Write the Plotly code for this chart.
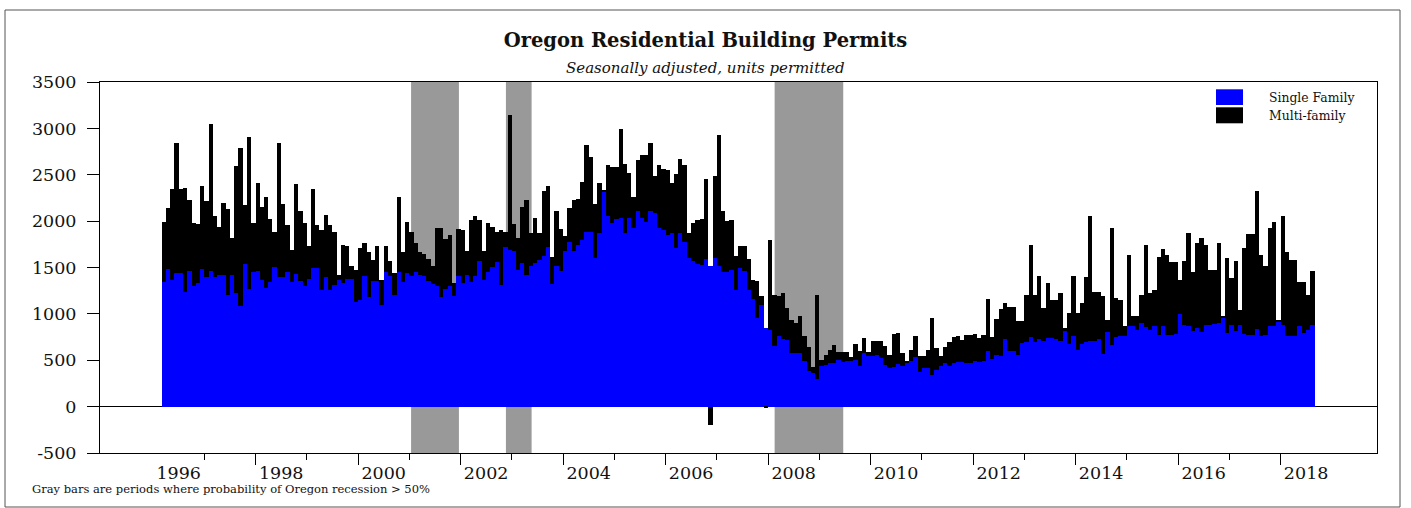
import pandas as pd
import plotly.graph_objects as go

# ---------------- data ----------------
months = pd.date_range("1996-03-01", periods=270, freq="MS")

single_family = [
    1339, 1483, 1360, 1440, 1440, 1231, 1457, 1296, 1332, 1483,
    1403, 1457, 1403, 1422, 1415, 1206, 1422, 1224, 1080, 1540,
    1268, 1451, 1457, 1368, 1278, 1339, 1505, 1393, 1400, 1447,
    1343, 1429, 1350, 1303, 1371, 1490, 1493, 1260, 1397, 1260,
    1314, 1368, 1332, 1375, 1379, 1124, 1152, 1404, 1181, 1350,
    1350, 1099, 1447, 1404, 1206, 1447, 1339, 1440, 1411, 1454,
    1422, 1404, 1350, 1325, 1296, 1181, 1268, 1296, 1195, 1411,
    1332, 1422, 1339, 1411, 1565, 1368, 1450, 1504, 1554, 1314,
    1716, 1691, 1673, 1475, 1547, 1421, 1511, 1547, 1583, 1619,
    1719, 1325, 1511, 1457, 1673, 1770, 1673, 1745, 1798, 1888,
    1888, 1601, 1870, 2319, 2050, 1978, 2021, 2032, 1870, 2032,
    1924, 2104, 2032, 1996, 2114, 2086, 1924, 1906, 1852, 1870,
    1709, 1870, 1780, 1601, 1565, 1540, 1529, 1594, 1511, 1601,
    1511, 1450, 1454, 1468, 1260, 1493, 1457, 1260, 1159, 955,
    1098, 847, 829, 650, 764, 729, 721, 578, 578, 578,
    488, 380, 362, 298, 434, 452, 470, 470, 499, 481,
    488, 488, 506, 434, 578, 542, 542, 560, 524, 452,
    416, 427, 463, 441, 477, 488, 535, 370, 416, 416,
    344, 398, 441, 470, 434, 470, 477, 477, 470, 470,
    488, 477, 495, 596, 513, 560, 549, 729, 596, 596,
    560, 686, 693, 750, 693, 729, 711, 739, 739, 729,
    703, 811, 678, 764, 614, 678, 693, 703, 703, 729,
    571, 801, 668, 750, 764, 757, 865, 865, 829, 901,
    854, 822, 865, 775, 865, 775, 775, 786, 1001, 883,
    865, 811, 847, 801, 883, 883, 890, 901, 966, 793,
    883, 811, 883, 786, 775, 775, 836, 764, 775, 872,
    872, 919, 883, 757, 757, 757, 865, 793, 829, 883,
]

multi_family = [
    657, 657, 988, 1400, 908, 1131, 773, 689, 639, 897,
    819, 1591, 647, 520, 785, 923, 395, 1375, 1710, 636,
    1643, 534, 952, 779, 980, 683, 383, 1447, 783, 506,
    348, 973, 754, 675, 363, 858, 460, 639, 671, 693,
    564, 54, 414, 360, 132, 344, 559, 361, 484, 236,
    379, 271, 282, 164, 237, 818, 326, 552, 467, 311,
    243, 246, 243, 186, 635, 743, 542, 557, 140, 502,
    567, 251, 668, 646, 446, 315, 530, 438, 334, 592,
    172, 1454, 299, 341, 610, 808, 360, 492, 288, 707,
    661, 287, 600, 457, 172, 370, 556, 492, 625, 934,
    801, 589, 546, 21, 556, 603, 560, 958, 744, 485,
    341, 556, 679, 718, 733, 402, 676, 654, 694, 539,
    798, 798, 826, 270, 414, 474, 492, 858, -194, 889,
    1418, 654, 549, 546, 366, 234, 270, 330, 209, 395,
    90, -15, 970, 556, 431, 495, 341, 352, 323, 402,
    272, 260, 68, 908, 72, 108, 144, 190, 86, 106,
    101, 47, 172, 162, 161, 43, 161, 151, 187, 205,
    144, 359, 330, 137, 13, 126, 229, 179, 133, 198,
    611, 234, 101, 172, 259, 280, 287, 244, 298, 305,
    294, 262, 280, 563, 237, 384, 503, 387, 477, 477,
    359, 233, 513, 995, 513, 675, 351, 593, 413, 423,
    521, 36, 331, 647, 395, 438, 703, 1347, 528, 502,
    624, 136, 1256, 420, 381, 108, 772, 108, 144, 305,
    891, 402, 395, 833, 833, 862, 779, 768, 367, 682,
    1012, 636, 916, 1015, 862, 585, 578, 862, 7, 808,
    503, 754, 154, 923, 1088, 1088, 1494, 873, 736, 1052,
    1124, 18, 1174, 905, 826, 826, 474, 546, 377, 574,
]

recession_start = ["2001-01-13", "2002-11-20", "2008-02-17"]
recession_end = ["2001-12-20", "2003-05-22", "2009-06-20"]

label_years = list(range(1996, 2019, 2))
major_tick_years = list(range(1998, 2019, 2))
minor_tick_years = list(range(1997, 2018, 2))
y_ticks = list(range(-500, 3501, 500))

# ---------------- style ----------------
FONT = "DejaVu Serif"
BLUE = "#0000FF"
BLACK = "#000000"
GRAY = "#999999"
TXT = "#111111"
L, R, T, B = 100, 34, 82, 55
W, H = 1411, 508
PW, PH = W - L - R, H - T - B


def px(xp):
    return (xp - L) / PW


def py(yp):
    return (H - B - yp) / PH


MONTH_MS = 30.44 * 24 * 3600 * 1000
x_range = ["1994-12-19", "2019-11-19"]

fig = go.Figure()
fig.add_bar(x=months, y=single_family, name="Single Family",
            marker=dict(color=BLUE, line=dict(width=0)),
            xperiod="M1", xperiodalignment="middle", width=MONTH_MS)
fig.add_bar(x=months, y=multi_family, name="Multi-family",
            marker=dict(color=BLACK, line=dict(width=0)),
            xperiod="M1", xperiodalignment="middle", width=MONTH_MS)
# helper trace so the label axis is drawn
fig.add_scatter(x=[months[0]], y=[None], xaxis="x2", showlegend=False,
                hoverinfo="skip", mode="markers")

shapes = []
for s, e in zip(recession_start, recession_end):
    shapes.append(dict(type="rect", xref="x", yref="paper", x0=s, x1=e, y0=0, y1=1,
                       fillcolor=GRAY, line=dict(width=0), layer="below"))
# outer frame
shapes.append(dict(type="rect", xref="paper", yref="paper",
                   x0=px(5), x1=px(1400), y0=py(507), y1=py(10),
                   line=dict(color="#555555", width=1), fillcolor="rgba(0,0,0,0)"))
# legend swatches
shapes.append(dict(type="rect", xref="paper", yref="paper",
                   x0=px(1216), x1=px(1243), y0=py(105), y1=py(89.3),
                   fillcolor=BLUE, line=dict(width=0)))
shapes.append(dict(type="rect", xref="paper", yref="paper",
                   x0=px(1216), x1=px(1243), y0=py(123.3), y1=py(107.3),
                   fillcolor=BLACK, line=dict(width=0)))

annotations = [
    dict(text="<i>Seasonally adjusted, units permitted</i>", xref="paper", yref="paper",
         x=px(705.5), y=py(68), showarrow=False, xanchor="center", yanchor="middle",
         font=dict(size=15, family=FONT, color=TXT)),
    dict(text="Gray bars are periods where probability of Oregon recession > 50%",
         xref="paper", yref="paper", x=px(30), y=py(489), showarrow=False,
         xanchor="left", yanchor="middle", font=dict(size=11.5, family=FONT, color=TXT)),
    dict(text="Single Family", xref="paper", yref="paper", x=px(1267), y=py(97),
         showarrow=False, xanchor="left", yanchor="middle",
         font=dict(size=12.4, family=FONT, color=TXT)),
    dict(text="Multi-family", xref="paper", yref="paper", x=px(1267), y=py(115.3),
         showarrow=False, xanchor="left", yanchor="middle",
         font=dict(size=12.4, family=FONT, color=TXT)),
]

fig.update_layout(
    width=W, height=H,
    margin=dict(l=L, r=R, t=T, b=B, pad=0),
    paper_bgcolor="white", plot_bgcolor="white",
    barmode="relative", bargap=0,
    showlegend=False,
    font=dict(family=FONT, color=TXT),
    title=dict(text="<b>Oregon Residential Building Permits</b>",
               x=0.5, xref="container", xanchor="center",
               y=1 - 40 / H, yref="container", yanchor="middle",
               font=dict(size=19.5, family=FONT, color=TXT)),
    xaxis=dict(type="date", range=x_range,
               tickmode="array", tickvals=[f"{y}-01-01" for y in major_tick_years],
               ticks="outside", ticklen=11, tickcolor="black", tickwidth=1,
               showticklabels=False,
               showline=True, linecolor="black", linewidth=1, mirror=True,
               showgrid=False, zeroline=False,
               minor=dict(tickmode="array",
                          tickvals=[f"{y}-01-01" for y in minor_tick_years],
                          ticks="outside", ticklen=6, tickcolor="black", tickwidth=1,
                          showgrid=False)),
    xaxis2=dict(type="date", range=x_range, overlaying="x", anchor="y", side="bottom",
                tickmode="array", tickvals=[f"{y}-07-02" for y in label_years],
                ticktext=[str(y) for y in label_years],
                ticks="", showline=False, showgrid=False, zeroline=False,
                tickfont=dict(size=17.5, family=FONT, color=TXT),
                ticklabelstandoff=7),
    yaxis=dict(range=[-500, 3500], tickmode="array", tickvals=y_ticks,
               ticktext=[str(v) for v in y_ticks],
               ticks="outside", ticklen=12, tickcolor="black", tickwidth=1,
               showline=True, linecolor="black", linewidth=1, mirror=True,
               showgrid=False, zeroline=True, zerolinecolor="black", zerolinewidth=1,
               tickfont=dict(size=17.5, family=FONT, color=TXT),
               ticklabelstandoff=7),
    shapes=shapes,
    annotations=annotations,
)

fig.write_html("out.html", config={"displayModeBar": False},
               post_script="document.body.style.margin='0';")
